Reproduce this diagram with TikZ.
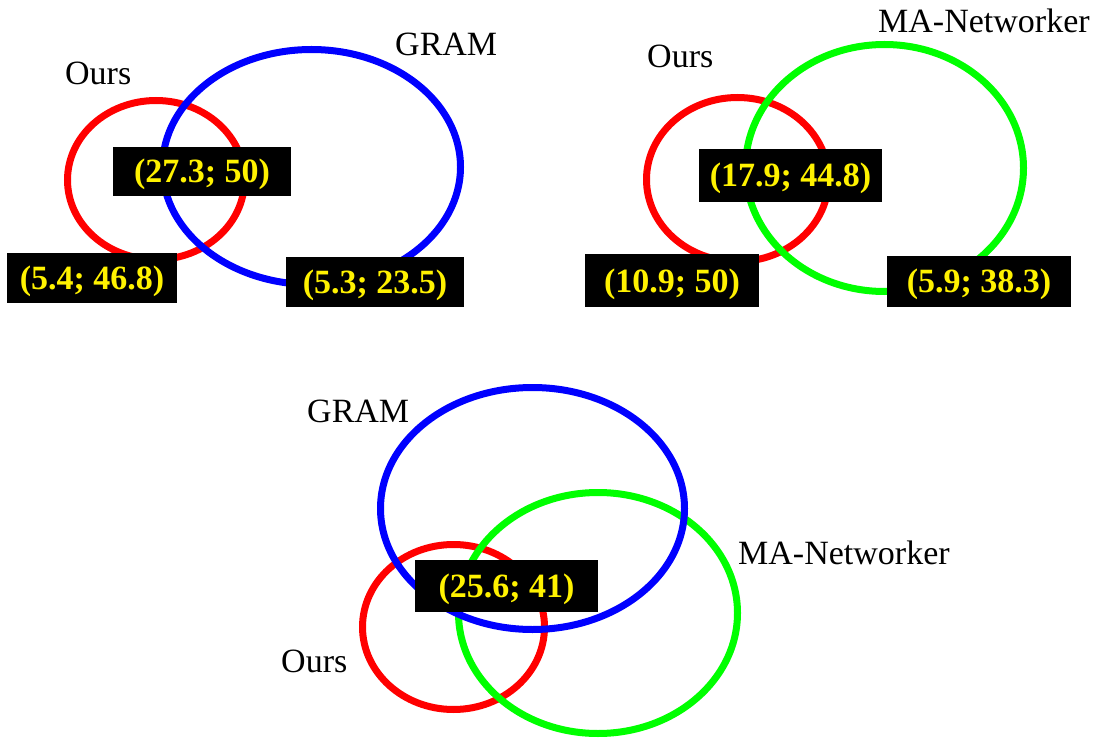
\documentclass[tikz,border=0pt]{standalone}
\usepackage{fontspec}
\setmainfont{Liberation Serif}
\begin{document}
\begin{tikzpicture}[x=1pt,y=-1pt,
  ring/.style={line width=7pt},
  setname/.style={anchor=base west, inner sep=0pt, font=\fontsize{34}{40}\selectfont},
  valbox/.style={fill=black, text=yellow, inner sep=0pt, text height=23pt, text depth=0pt,
    font=\fontsize{34}{40}\selectfont\bfseries},
]
\useasboundingbox (0,0) rectangle (1101,738);

% --- Ours vs. GRAM ---
\draw[ring, red]  (156,180) ellipse [x radius=88.5, y radius=79.5];
\draw[ring, blue] (311.5,167) ellipse [x radius=149, y radius=117.5];
\node[setname] (oursA) at (65,85) {Ours};
\node[setname] (gramA) at (395,56) {GRAM};
\node[valbox, minimum width=178, minimum height=49] (bothA) at (202,171.5) {(27.3; 50)};
\node[valbox, minimum width=170, minimum height=50] (onlyOursA) at (92,278) {(5.4; 46.8)};
\node[valbox, minimum width=178, minimum height=50] (onlyGramA) at (375,282) {(5.3; 23.5)};

% --- Ours vs. MA-Networker ---
\draw[ring, red]   (737.5,179.5) ellipse [x radius=91, y radius=82];
\draw[ring, green] (884.5,168) ellipse [x radius=139, y radius=123.5];
\node[setname] (oursB) at (647,68) {Ours};
\node[setname] (manB) at (878,33) {MA-Networker};
\node[valbox, minimum width=183, minimum height=53] (bothB) at (790.5,175.5) {(17.9; 44.8)};
\node[valbox, minimum width=174, minimum height=53] (onlyOursB) at (672,280.5) {(10.9; 50)};
\node[valbox, minimum width=184, minimum height=51] (onlyManB) at (979,281.5) {(5.9; 38.3)};

% --- all three methods ---
\draw[ring, red]   (453.5,627) ellipse [x radius=91, y radius=82.5];
\draw[ring, green] (598,613) ellipse [x radius=139.5, y radius=120.5];
\draw[ring, blue]  (532.5,508.5) ellipse [x radius=152, y radius=121];
\node[setname] (gramC) at (307,422) {GRAM};
\node[setname] (oursC) at (281,672) {Ours};
\node[setname] (manC) at (738,564) {MA-Networker};
\node[valbox, minimum width=183, minimum height=52] (allC) at (506.5,586) {(25.6; 41)};
\end{tikzpicture}
\end{document}
